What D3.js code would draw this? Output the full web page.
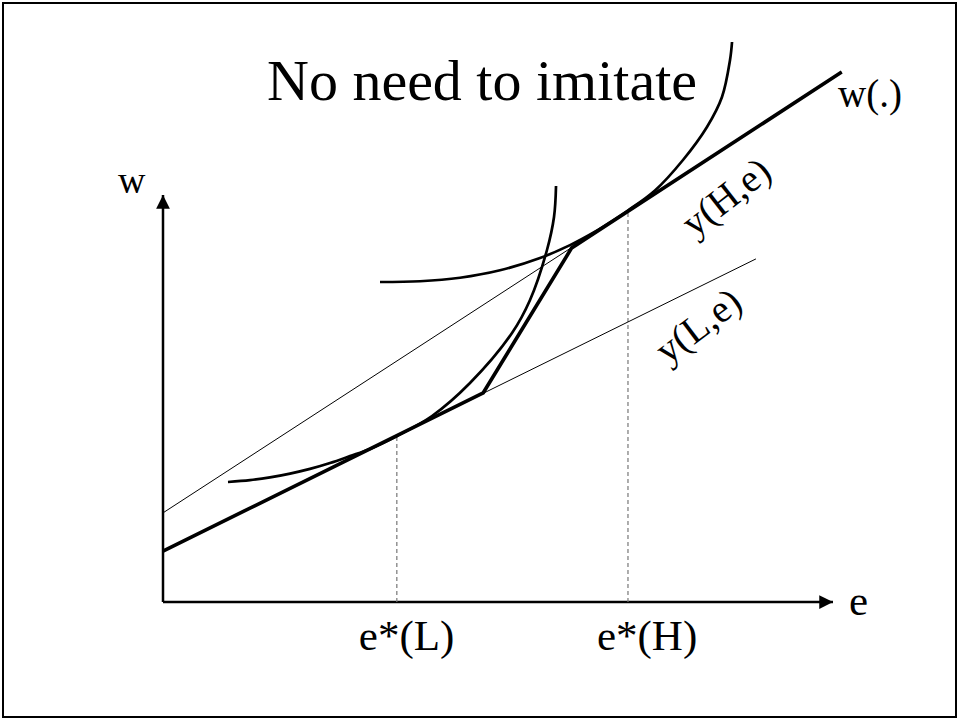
<!DOCTYPE html>
<html>
<head>
<meta charset="utf-8">
<script src="https://cdn.jsdelivr.net/npm/d3@7"></script>
<style>
  body { margin: 0; background: #fff; }
  text { font-family: "Liberation Serif", "Times New Roman", serif; fill: #000; }
</style>
</head>
<body>
<div id="graph"></div>
<script>
const width = 959, height = 720;

// wage schedules (e, w): y(L,e) and y(H,e)
const lineL = [[0, 1.25], [8.85, 8.43]];
const lineH = [[0, 2.19], [10.13, 13.02]];
// w(.) : thick kinked schedule
const wage = [[0, 1.25], [4.78, 5.14], [6.10, 8.70], [10.13, 13.02]];
// indifference curves
const curveL = [[0.970, 2.948], [1.299, 2.993], [1.597, 3.061], [1.896, 3.155], [2.194, 3.270],
                [2.493, 3.415], [2.791, 3.585], [3.090, 3.762], [3.493, 4.079], [4.015, 4.570],
                [4.582, 5.381], [5.209, 6.609], [5.478, 7.420], [5.731, 8.649], [5.836, 9.459],
                [5.866, 10.221]];
const curveH = [[3.239, 7.862], [3.836, 7.881], [4.433, 7.967], [5.030, 8.150], [5.627, 8.452],
                [6.075, 8.769], [6.448, 9.098], [6.687, 9.341], [6.940, 9.619], [7.343, 10.111],
                [7.761, 10.860], [8.119, 11.671], [8.343, 12.408], [8.463, 13.317], [8.493, 13.759]];
// optimal efforts
const eStar = [3.49, 6.94];
const eStarLabels = ["e*(L)", "e*(H)"];

let svg = d3.select("#graph")
    .append("svg")
    .attr("width", width)
    .attr("height", height);

// slide frame
svg.append("rect")
    .attr("x", 3).attr("y", 3)
    .attr("width", 953).attr("height", 714)
    .attr("fill", "none")
    .attr("stroke", "#000")
    .attr("stroke-width", 2);

let x = d3.scaleLinear().domain([0, 10]).range([163, 833]);
let y = d3.scaleLinear().domain([0, 10]).range([602, 195]);

let line = d3.line().x(d => x(d[0])).y(d => y(d[1]));
let smooth = d3.line().x(d => x(d[0])).y(d => y(d[1])).curve(d3.curveCatmullRom.alpha(0.5));

// arrow heads
let defs = svg.append("defs");
defs.append("marker")
    .attr("id", "arrow")
    .attr("viewBox", "0 0 10 10")
    .attr("refX", 10).attr("refY", 5)
    .attr("markerWidth", 5.5).attr("markerHeight", 5.5)
    .attr("orient", "auto")
    .append("path")
    .attr("d", "M0,0 L10,5 L0,10 Z")
    .attr("fill", "#000");

// axes
svg.append("line")
    .attr("x1", x(0)).attr("y1", y(0))
    .attr("x2", x(10)).attr("y2", y(0))
    .attr("stroke", "#000").attr("stroke-width", 2.5)
    .attr("marker-end", "url(#arrow)");
svg.append("line")
    .attr("x1", x(0)).attr("y1", y(0))
    .attr("x2", x(0)).attr("y2", y(10))
    .attr("stroke", "#000").attr("stroke-width", 2.5)
    .attr("marker-end", "url(#arrow)");

// guides meet the straight schedules at e*
let guideTop = [
    lineL[0][1] + (lineL[1][1] - lineL[0][1]) * eStar[0] / lineL[1][0],
    lineH[0][1] + (lineH[1][1] - lineH[0][1]) * eStar[1] / lineH[1][0]
];
svg.selectAll(".guide")
    .data(eStar)
    .enter()
    .append("line")
    .attr("class", "guide")
    .attr("x1", d => x(d)).attr("x2", d => x(d))
    .attr("y1", y(0))
    .attr("y2", (d, i) => y(guideTop[i]))
    .attr("stroke", "#777")
    .attr("stroke-width", 1.2)
    .attr("stroke-dasharray", "4,3");

// thin straight schedules
[lineL, lineH].forEach(function(d) {
    svg.append("path")
        .attr("d", line(d))
        .attr("fill", "none")
        .attr("stroke", "#000")
        .attr("stroke-width", 1);
});

// indifference curves
[curveL, curveH].forEach(function(d) {
    svg.append("path")
        .attr("d", smooth(d))
        .attr("fill", "none")
        .attr("stroke", "#000")
        .attr("stroke-width", 2.7);
});

// w(.)
svg.append("path")
    .attr("d", line(wage))
    .attr("fill", "none")
    .attr("stroke", "#000")
    .attr("stroke-width", 3.6)
    .attr("stroke-linejoin", "miter");

// texts
svg.append("text")
    .attr("x", 267).attr("y", 100)
    .style("font-size", "58px")
    .text("No need to imitate");

svg.append("text")
    .attr("x", 118).attr("y", 193)
    .style("font-size", "38px")
    .text("w");

svg.append("text")
    .attr("x", 849).attr("y", 615)
    .style("font-size", "43px")
    .text("e");

svg.append("text")
    .attr("x", 838).attr("y", 107)
    .style("font-size", "39px")
    .text("w(.)");

svg.selectAll(".estar")
    .data(eStarLabels)
    .enter()
    .append("text")
    .attr("class", "estar")
    .attr("x", (d, i) => x(eStar[i]) - [38, 31][i])
    .attr("y", 650)
    .style("font-size", "43px")
    .text(d => d);

svg.append("text")
    .attr("transform", "translate(734,207) rotate(-38)")
    .style("text-anchor", "middle")
    .style("font-size", "39px")
    .text("y(H,e)");

svg.append("text")
    .attr("transform", "translate(706,336) rotate(-37)")
    .style("text-anchor", "middle")
    .style("font-size", "39px")
    .text("y(L,e)");
</script>
</body>
</html>
